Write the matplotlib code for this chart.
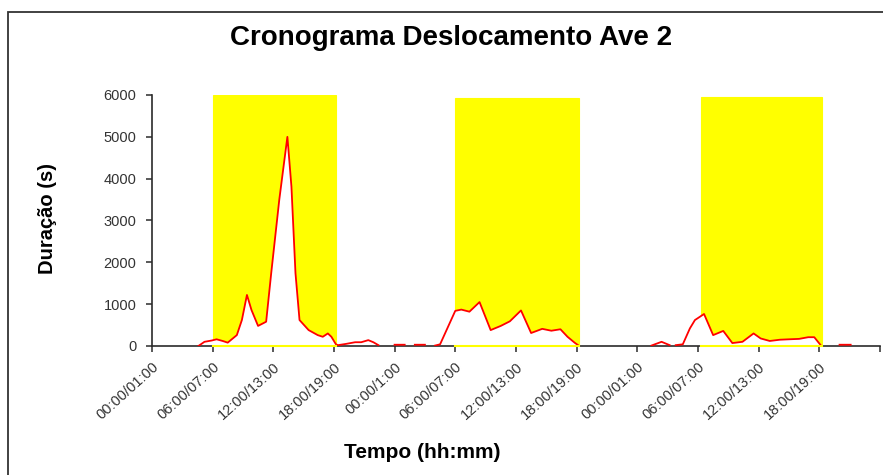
import numpy as np
import matplotlib.pyplot as plt
from matplotlib.patches import Rectangle

plt.rcParams['font.family'] = ['Liberation Sans', 'DejaVu Sans']

# Tempo em horas desde 00:00 do primeiro dia (nan separa trechos sem dados)
horas = [4.6, 5.2, 5.9, 6.4, 7.0, 7.5, 8.4, 8.9, 9.4, 9.85, 10.5, 11.3, 11.8,
         12.6, 13.4, 13.8, 14.2, 14.6, 15.5, 16.4, 16.9, 17.4, 17.75, 18.2,
         18.4, 19.2, 20.1, 20.7, 21.4, 21.9, 22.4, np.nan,
         24.0, 25.0, np.nan,
         26.0, 27.0, np.nan,
         28.0, 28.5, 30.0, 30.6, 31.4, 32.4, 33.5, 34.5, 35.4, 36.5, 37.5,
         38.6, 39.5, 40.4, 41.1, 41.8, 42.2, np.nan,
         49.4, 50.4, 51.2, np.nan,
         51.8, 52.5, 53.2, 53.7, 54.2, 54.6, 55.5, 56.5, 57.4, 58.4, 59.5,
         60.2, 61.1, 62.1, 63.0, 64.0, 64.9, 65.5, 66.0, 66.2, np.nan,
         68.0, 69.1]
duracao = [0, 100, 130, 160, 120, 80, 260, 620, 1220, 860, 480, 580, 1740,
           3500, 5000, 3810, 1740, 620, 380, 260, 220, 300, 220, 40,
           20, 50, 90, 90, 140, 90, 20, np.nan,
           30, 30, np.nan,
           30, 30, np.nan,
           10, 40, 840, 870, 820, 1050, 380, 480, 590, 850, 310,
           410, 365, 400, 220, 80, 10, np.nan,
           10, 100, 20, np.nan,
           20, 40, 420, 620, 700, 765, 260, 360, 70, 100, 300,
           180, 120, 150, 160, 170, 210, 210, 60, 0, np.nan,
           30, 30]

# Periodo diurno (barras amarelas)
inicio_dia = [6.05, 30.0, 54.3]
fim_dia = [18.25, 42.2, 66.3]
altura_dia = [6000, 5920, 5950]

posicoes = list(range(0, 73, 6))
rotulos = ['00:00/01:00', '06:00/07:00', '12:00/13:00', '18:00/19:00',
           '00:00/1:00', '06:00/07:00', '12:00/13:00', '18:00/19:00',
           '00:00/01:00', '06:00/07:00', '12:00/13:00', '18:00/19:00', '']

fig = plt.figure(figsize=(8.83, 4.75), dpi=100)
ax = fig.add_axes([0.172, 0.2716, 0.8246, 0.5284])

larguras = np.array(fim_dia) - np.array(inicio_dia)
ax.bar(inicio_dia, altura_dia, width=larguras, align='edge',
       color='#FFFF00', edgecolor='#FFFF00', linewidth=0.8, zorder=1)

h = np.array(horas)
d = np.array(duracao)
ax.fill_between(h, 0, d, where=~np.isnan(d), color='white', lw=0, zorder=2)
ax.plot(h, d, color='#FF0000', lw=1.3, zorder=4)

# borda inferior amarela das barras por cima do eixo
for a, b in zip(inicio_dia, fim_dia):
    ax.plot([a, b], [0, 0], color='#FFFF00', lw=1.5, zorder=5, clip_on=False)

ax.set_xlim(0, 72)
ax.set_ylim(0, 6000)
ax.set_yticks(range(0, 6001, 1000))
ax.set_xticks(posicoes)
ax.set_xticklabels(rotulos, rotation=42, ha='right', va='top',
                   rotation_mode='anchor', fontsize=10.5, color='#333333')
ax.tick_params(axis='y', labelsize=10.5, labelcolor='#333333', length=4,
               width=1.1, color='#2b2b2b', pad=7)
ax.tick_params(axis='x', length=4, width=1.1, color='#2b2b2b', pad=6)

for lado in ['top', 'right']:
    ax.spines[lado].set_visible(False)
for lado in ['left', 'bottom']:
    ax.spines[lado].set_color('#2b2b2b')
    ax.spines[lado].set_linewidth(1.2)

fig.text(0.511, 0.92, 'Cronograma Deslocamento Ave 2', ha='center',
         va='center', fontsize=20, fontweight='bold')
fig.text(0.054, 0.539, 'Duração (s)', rotation=90, ha='center', va='center',
         fontsize=14.5, fontweight='bold')
fig.text(0.478, 0.048, 'Tempo (hh:mm)', ha='center', va='center',
         fontsize=15, fontweight='bold')

# moldura da area do grafico
fig.patches.append(Rectangle((8 / 883, -0.1), 1.2, 1.1 - 12 / 475,
                             transform=fig.transFigure, fill=False,
                             edgecolor='#333333', linewidth=1.3))

fig.savefig('out.png', dpi=100)
